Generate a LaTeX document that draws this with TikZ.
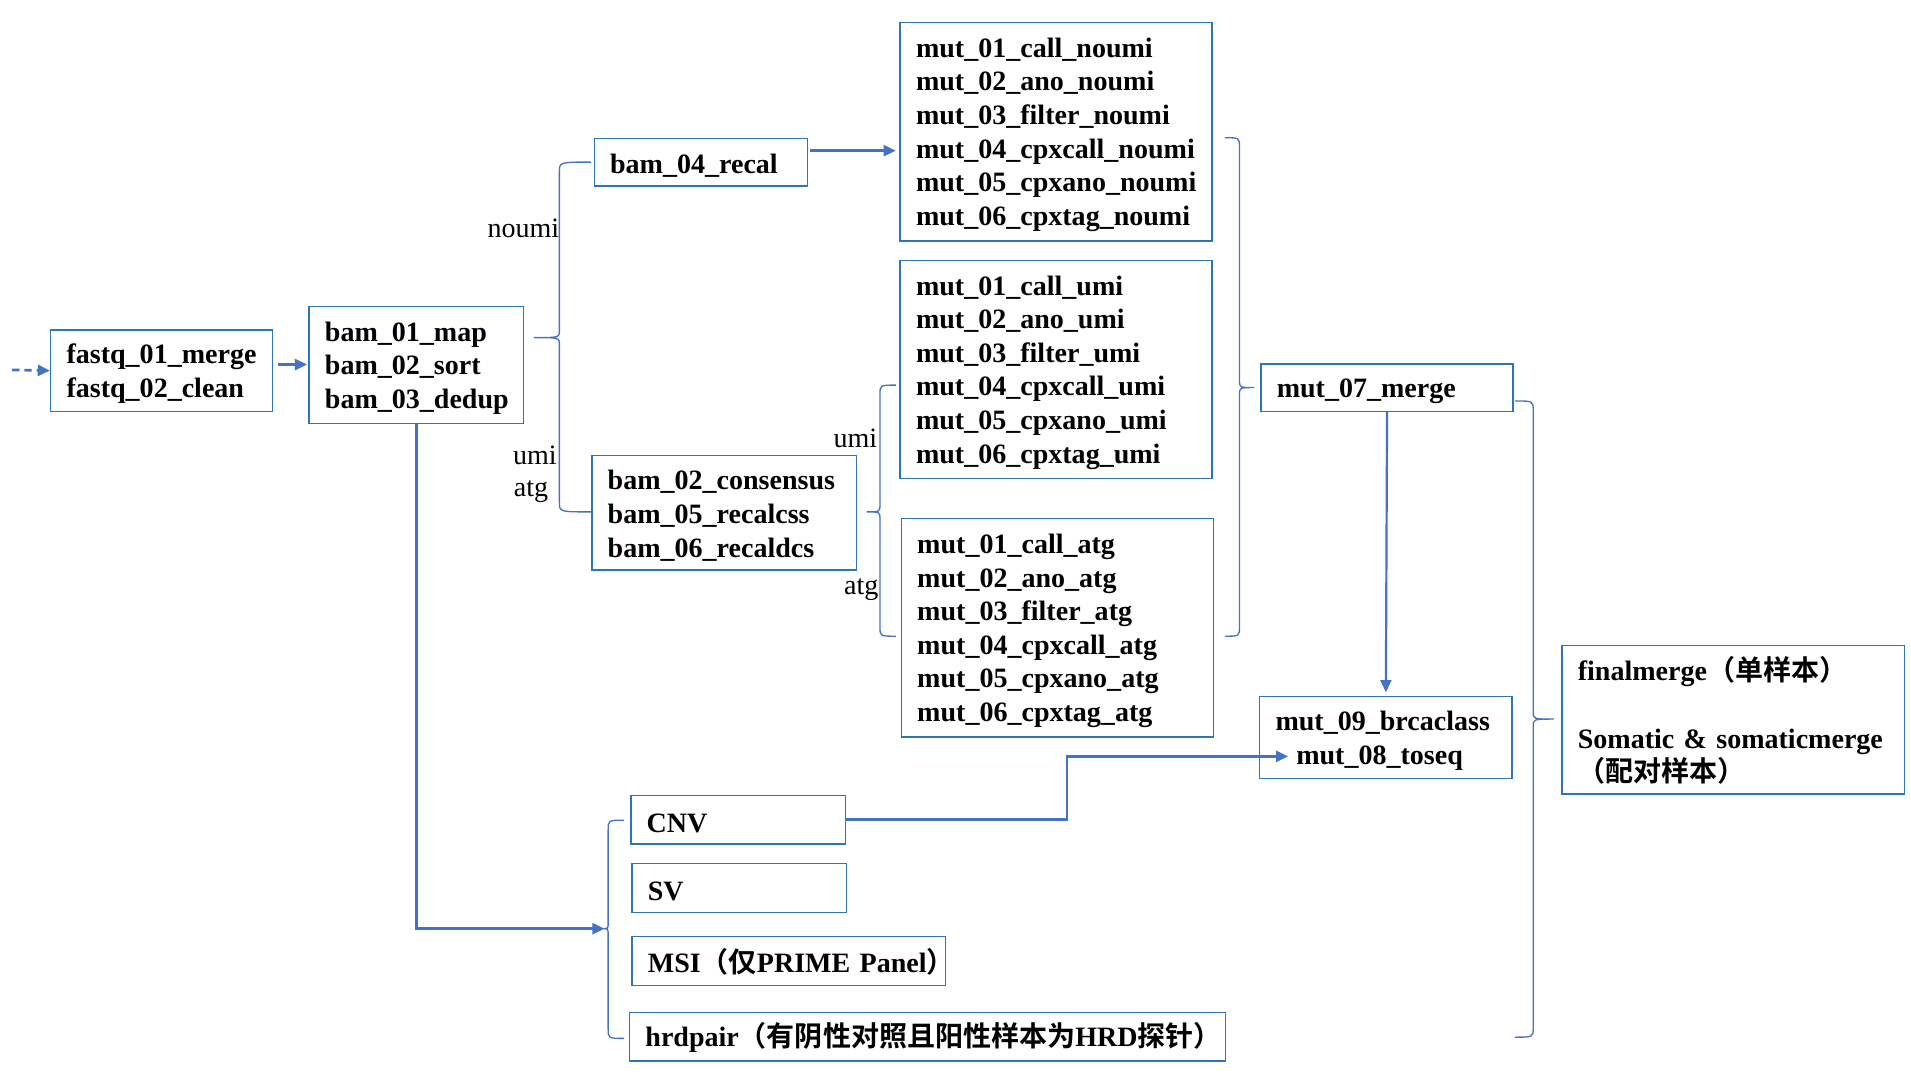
\documentclass[tikz,border=0pt]{standalone}
\usepackage{fontspec}
\setmainfont{Liberation Serif}
\newfontfamily\zhfont{Noto Sans CJK SC}[BoldFont={Noto Sans CJK SC Bold}]
\usetikzlibrary{arrows.meta,calc}
\definecolor{boxblue}{HTML}{2E75B6}
\definecolor{lineblue}{HTML}{4472C4}
% Chinese text inside a Latin line
\newcommand\zh[1]{{\zhfont\fontsize{23}{27.6}\selectfont #1}}
% vertical curly brace: #1 spine x, #2 arm x, #3 top y, #4 bottom y, #5 tip y, #6 tip x
\newcommand\vbrace[6]{%
  \draw[brace] (#2,#3) .. controls (#1,#3) .. (#1,{#3+8}) -- (#1,{#5-6})
    .. controls (#1,#5) .. (#6,#5) .. controls (#1,#5) .. (#1,{#5+6})
    -- (#1,{#4-8}) .. controls (#1,#4) .. (#2,#4);}

\begin{document}
\begin{tikzpicture}[x=1pt,y=-1pt,
  box/.style={draw=boxblue, line width=1.2pt, anchor=north west,
    inner xsep=13pt, inner ysep=0pt, text width=#1, align=left,
    font=\bfseries\fontsize{23}{27.6}\selectfont,
    execute at begin node={\rule{0pt}{21pt}}},
  lbl/.style={inner sep=0pt, anchor=east, font=\fontsize{23}{27.6}\selectfont},
  arr/.style={draw=lineblue, line width=2.2pt, -{Triangle[length=10pt,width=9pt]}},
  brace/.style={draw=lineblue, line width=1.1pt}]

\useasboundingbox (0,0) rectangle (1568,881);

% ---- process boxes ----
\node[box=156pt, minimum height=67pt] (fastq) at (41,270)
  {fastq\_01\_merge\\fastq\_02\_clean};
\node[box=150pt, minimum height=96pt] (bam) at (253,251)
  {bam\_01\_map\\bam\_02\_sort\\bam\_03\_dedup};
\node[box=149pt, minimum height=39pt] (bam04) at (487,113) {bam\_04\_recal};
\node[box=191pt, minimum height=94pt] (cons) at (485,373)
  {bam\_02\_consensus\\bam\_05\_recalcss\\bam\_06\_recaldcs};

\node[box=230pt, minimum height=179pt] (noumi) at (738,18)
  {mut\_01\_call\_noumi\\mut\_02\_ano\_noumi\\mut\_03\_filter\_noumi\\
   mut\_04\_cpxcall\_noumi\\mut\_05\_cpxano\_noumi\\mut\_06\_cpxtag\_noumi};
\node[box=230pt, minimum height=179pt] (umi) at (738,213)
  {mut\_01\_call\_umi\\mut\_02\_ano\_umi\\mut\_03\_filter\_umi\\
   mut\_04\_cpxcall\_umi\\mut\_05\_cpxano\_umi\\mut\_06\_cpxtag\_umi};
\node[box=230pt, minimum height=179pt] (atg) at (739,425)
  {mut\_01\_call\_atg\\mut\_02\_ano\_atg\\mut\_03\_filter\_atg\\
   mut\_04\_cpxcall\_atg\\mut\_05\_cpxano\_atg\\mut\_06\_cpxtag\_atg};

\node[box=181pt, minimum height=39pt] (mut07) at (1034,298) {mut\_07\_merge};
\node[box=181pt, minimum height=67pt] (mut09) at (1033,571)
  {mut\_09\_brcaclass\\\hspace*{17pt}mut\_08\_toseq};
\node[box=255pt, minimum height=122pt] (final) at (1281,529)
  {\mbox{finalmerge\zh{（单样本）}}\\[27.6pt]\mbox{Somatic \& somaticmerge}\\\zh{（配对样本）}};

\node[box=150pt, minimum height=40pt] (cnv) at (517,652) {CNV};
\node[box=150pt, minimum height=40pt] (sv) at (518,708) {SV};
\node[box=231pt, minimum height=40pt] (msi) at (518,768)
  {\mbox{MSI\zh{（仅}PRIME Panel\zh{）}}};
\node[box=463pt, minimum height=40pt] (hrd) at (516,830)
  {\mbox{hrdpair\zh{（有阴性对照且阳性样本为}HRD\zh{探针）}}};

% ---- branch labels ----
\node[lbl] (lnoumi) at (459,187) {noumi};
\node[lbl] (lumi) at (457,374) {umi};
\node[lbl] (latg) at (450,403) {atg};
\node[lbl] (lumi2) at (720,360) {umi};
\node[lbl] (latg2) at (721,484) {atg};

% ---- braces ----
\vbrace{459}{485}{133}{420}{277}{438}
\vbrace{722}{735}{316}{522}{420}{711}
\vbrace{1017}{1005}{113}{522}{318}{1029}
\vbrace{1258}{1243}{329}{851}{590}{1275}
\vbrace{499}{512}{673}{852}{762}{495}
\coordinate (tipE) at (496,762);

% ---- connectors ----
\coordinate (start) at (10,303.5);
\draw[arr, dash pattern=on 6pt off 4pt] (start) -- (fastq.west);

\coordinate (a1) at ([shift={(4,-5)}]fastq.east);
\draw[arr, shorten >=1pt] (a1) -- (a1 -| bam.west);

\coordinate (a2) at ([shift={(1,-9.5)}]bam04.east);
\draw[arr, shorten >=3pt] (a2) -- (a2 -| noumi.west);

\draw[arr, line width=1.8pt, shorten >=3pt] (mut07.south) -- (mut09.north);

\coordinate (a3) at ([shift={(24,15.5)}]mut09.west);
\draw[arr] (cnv.east) -| ($(cnv.east)!.5!(a3)$) |- (a3);

\draw[arr] (bam.south) |- (tipE);

\end{tikzpicture}
\end{document}
